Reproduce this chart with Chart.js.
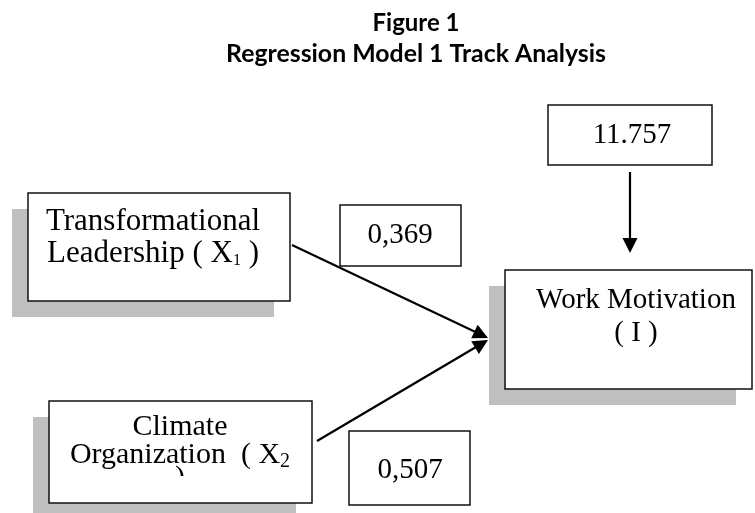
<!DOCTYPE html>
<html><head><meta charset="utf-8">
<script src="https://cdn.jsdelivr.net/npm/chart.js@4/dist/chart.umd.min.js"></script>
<style>html,body{margin:0;padding:0;background:#fff}#wrap{width:755px;height:513px;position:relative}</style>
</head><body><div id="wrap"><canvas id="c"></canvas></div>
<script>
// ---- data ----
const titleLines = ['Figure 1', 'Regression Model 1 Track Analysis'];
const nodeText = [
  ['Transformational', 'Leadership ( X{1} )'],
  ['Climate', 'Organization  ( X{2}', ')'],
  ['Work Motivation', '( I )']
];
const pathCoefficients = [0.369, 0.507];
const constantValue = [11.757];

// ---- layout (diagram units) ----
const layout = {
  nodes: [
    {x0: 28, y0: 193, x1: 290, y1: 301},
    {x0: 49, y0: 401, x1: 312, y1: 503},
    {x0: 505, y0: 270, x1: 752, y1: 389}
  ],
  coefBoxes: [
    {x0: 340, y0: 205, x1: 461, y1: 266},
    {x0: 349, y0: 431, x1: 470, y1: 505}
  ],
  constBox: {x0: 548, y0: 105, x1: 712, y1: 165},
  shadow: {dx: -16, dy: 16},
  arrows: [
    {from: [292, 245], to: [488, 338]},
    {from: [317, 441], to: [488, 340]},
    {from: [630, 172], to: [630, 253]}
  ]
};
const textLayout = {
  title: [{cx: 416, base: 31, width: 87}, {cx: 416, base: 62, width: 380}],
  nodes: [
    {cx: 153, bases: [230, 262], size: 31, sub: {size: 16, dy: 3}},
    {cx: 180, bases: [435, 463, 486], size: 30, sub: {size: 20, dy: 4}, clipBottom: 476},
    {cx: 636, bases: [308, 341], size: 29}
  ],
  coefs: [{cx: 400, base: 243}, {cx: 410, base: 478}],
  constant: {cx: 632, base: 143}
};
const SERIF = '"Liberation Serif", "Times New Roman", serif';
const BOX_FONT = 29;

function rectData(r, dx, dy) {
  dx = dx || 0; dy = dy || 0;
  return [[r.x0, r.y0], [r.x1, r.y0], [r.x1, r.y1], [r.x0, r.y1], [r.x0, r.y0]]
    .map(p => ({x: p[0] + dx, y: p[1] + dy}));
}
const allRects = layout.nodes.concat(layout.coefBoxes, [layout.constBox]);
const datasets = [];
layout.nodes.forEach(r => datasets.push({
  data: rectData(r, layout.shadow.dx, layout.shadow.dy), showLine: true, fill: 'shape',
  backgroundColor: '#bfbfbf', borderWidth: 0, pointRadius: 0, order: 10, clip: false
}));
allRects.forEach(r => datasets.push({
  data: rectData(r), showLine: true, fill: 'shape', backgroundColor: '#ffffff',
  borderColor: '#111111', borderWidth: 1.5, borderCapStyle: 'square', borderJoinStyle: 'miter',
  pointRadius: 0, order: 5, clip: false
}));
layout.arrows.forEach(a => {
  const dx = a.to[0] - a.from[0], dy = a.to[1] - a.from[1];
  const len = Math.hypot(dx, dy), back = 8;
  datasets.push({
    data: [{x: a.from[0], y: a.from[1]}, {x: a.to[0] - dx / len * back, y: a.to[1] - dy / len * back}],
    showLine: true, fill: false, borderColor: '#000', borderWidth: 2.2, pointRadius: 0, order: 3, clip: false
  });
});

function drawRich(ctx, str, cx, base, size, sub) {
  const parts = [];
  str.split(/(\{[^}]*\})/).forEach(p => {
    if (!p) return;
    if (p[0] === '{') parts.push({t: p.slice(1, -1), size: sub.size, dy: sub.dy});
    else parts.push({t: p, size: size, dy: 0});
  });
  let w = 0;
  parts.forEach(p => { ctx.font = p.size + 'px ' + SERIF; p.w = ctx.measureText(p.t).width; w += p.w; });
  let xx = cx - w / 2;
  parts.forEach(p => { ctx.font = p.size + 'px ' + SERIF; ctx.fillText(p.t, xx, base + p.dy); xx += p.w; });
}

const diagramPlugin = {
  id: 'diagram',
  afterDatasetsDraw(chart) {
    const ctx = chart.ctx, sx = chart.scales.x, sy = chart.scales.y;
    const px = v => sx.getPixelForValue(v), py = v => sy.getPixelForValue(v);
    ctx.save();
    ctx.fillStyle = '#000';
    ctx.textBaseline = 'alphabetic';
    ctx.textAlign = 'left';
    // arrowheads
    layout.arrows.forEach(a => {
      const tx = px(a.to[0]), ty = py(a.to[1]), fx = px(a.from[0]), fy = py(a.from[1]);
      const ang = Math.atan2(ty - fy, tx - fx), L = 15, W = 7.5;
      ctx.beginPath();
      ctx.moveTo(tx, ty);
      ctx.lineTo(tx - L * Math.cos(ang) + W * Math.sin(ang), ty - L * Math.sin(ang) - W * Math.cos(ang));
      ctx.lineTo(tx - L * Math.cos(ang) - W * Math.sin(ang), ty - L * Math.sin(ang) + W * Math.cos(ang));
      ctx.closePath();
      ctx.fill();
    });
    // title
    titleLines.forEach((t, i) => {
      const tl = textLayout.title[i];
      ctx.font = 'bold 20px Lato, "Open Sans", sans-serif';
      const m = ctx.measureText(t).width;
      const size = 20 * tl.width / m;
      ctx.font = 'bold ' + size.toFixed(2) + 'px Lato, "Open Sans", sans-serif';
      const w = ctx.measureText(t).width;
      ctx.fillText(t, px(tl.cx) - w / 2, py(tl.base));
    });
    // node texts
    nodeText.forEach((lines, i) => {
      const nl = textLayout.nodes[i];
      lines.forEach((line, j) => {
        ctx.save();
        if (nl.clipBottom && j === lines.length - 1 && lines.length > 2) {
          ctx.beginPath();
          ctx.rect(0, 0, chart.width, py(nl.clipBottom));
          ctx.clip();
        }
        drawRich(ctx, line, px(nl.cx), py(nl.bases[j]), nl.size, nl.sub || {size: 15, dy: 3});
        ctx.restore();
      });
    });
    // coefficient labels
    ctx.font = BOX_FONT + 'px ' + SERIF;
    pathCoefficients.forEach((v, i) => {
      const t = v.toFixed(3).replace('.', ',');
      const c = textLayout.coefs[i];
      const w = ctx.measureText(t).width;
      ctx.fillText(t, px(c.cx) - w / 2, py(c.base));
    });
    constantValue.forEach(v => {
      const t = v.toFixed(3);
      const c = textLayout.constant;
      const w = ctx.measureText(t).width;
      ctx.fillText(t, px(c.cx) - w / 2, py(c.base));
    });
    ctx.restore();
  }
};

new Chart(document.getElementById('c'), {
  type: 'scatter',
  data: {datasets},
  options: {
    animation: false, responsive: true, maintainAspectRatio: false,
    layout: {padding: 0},
    events: [],
    plugins: {legend: {display: false}, tooltip: {enabled: false}, title: {display: false}},
    scales: {
      x: {type: 'linear', min: 0, max: 755, display: false},
      y: {type: 'linear', min: 0, max: 513, reverse: true, display: false}
    }
  },
  plugins: [diagramPlugin]
});
</script>
</body></html>
